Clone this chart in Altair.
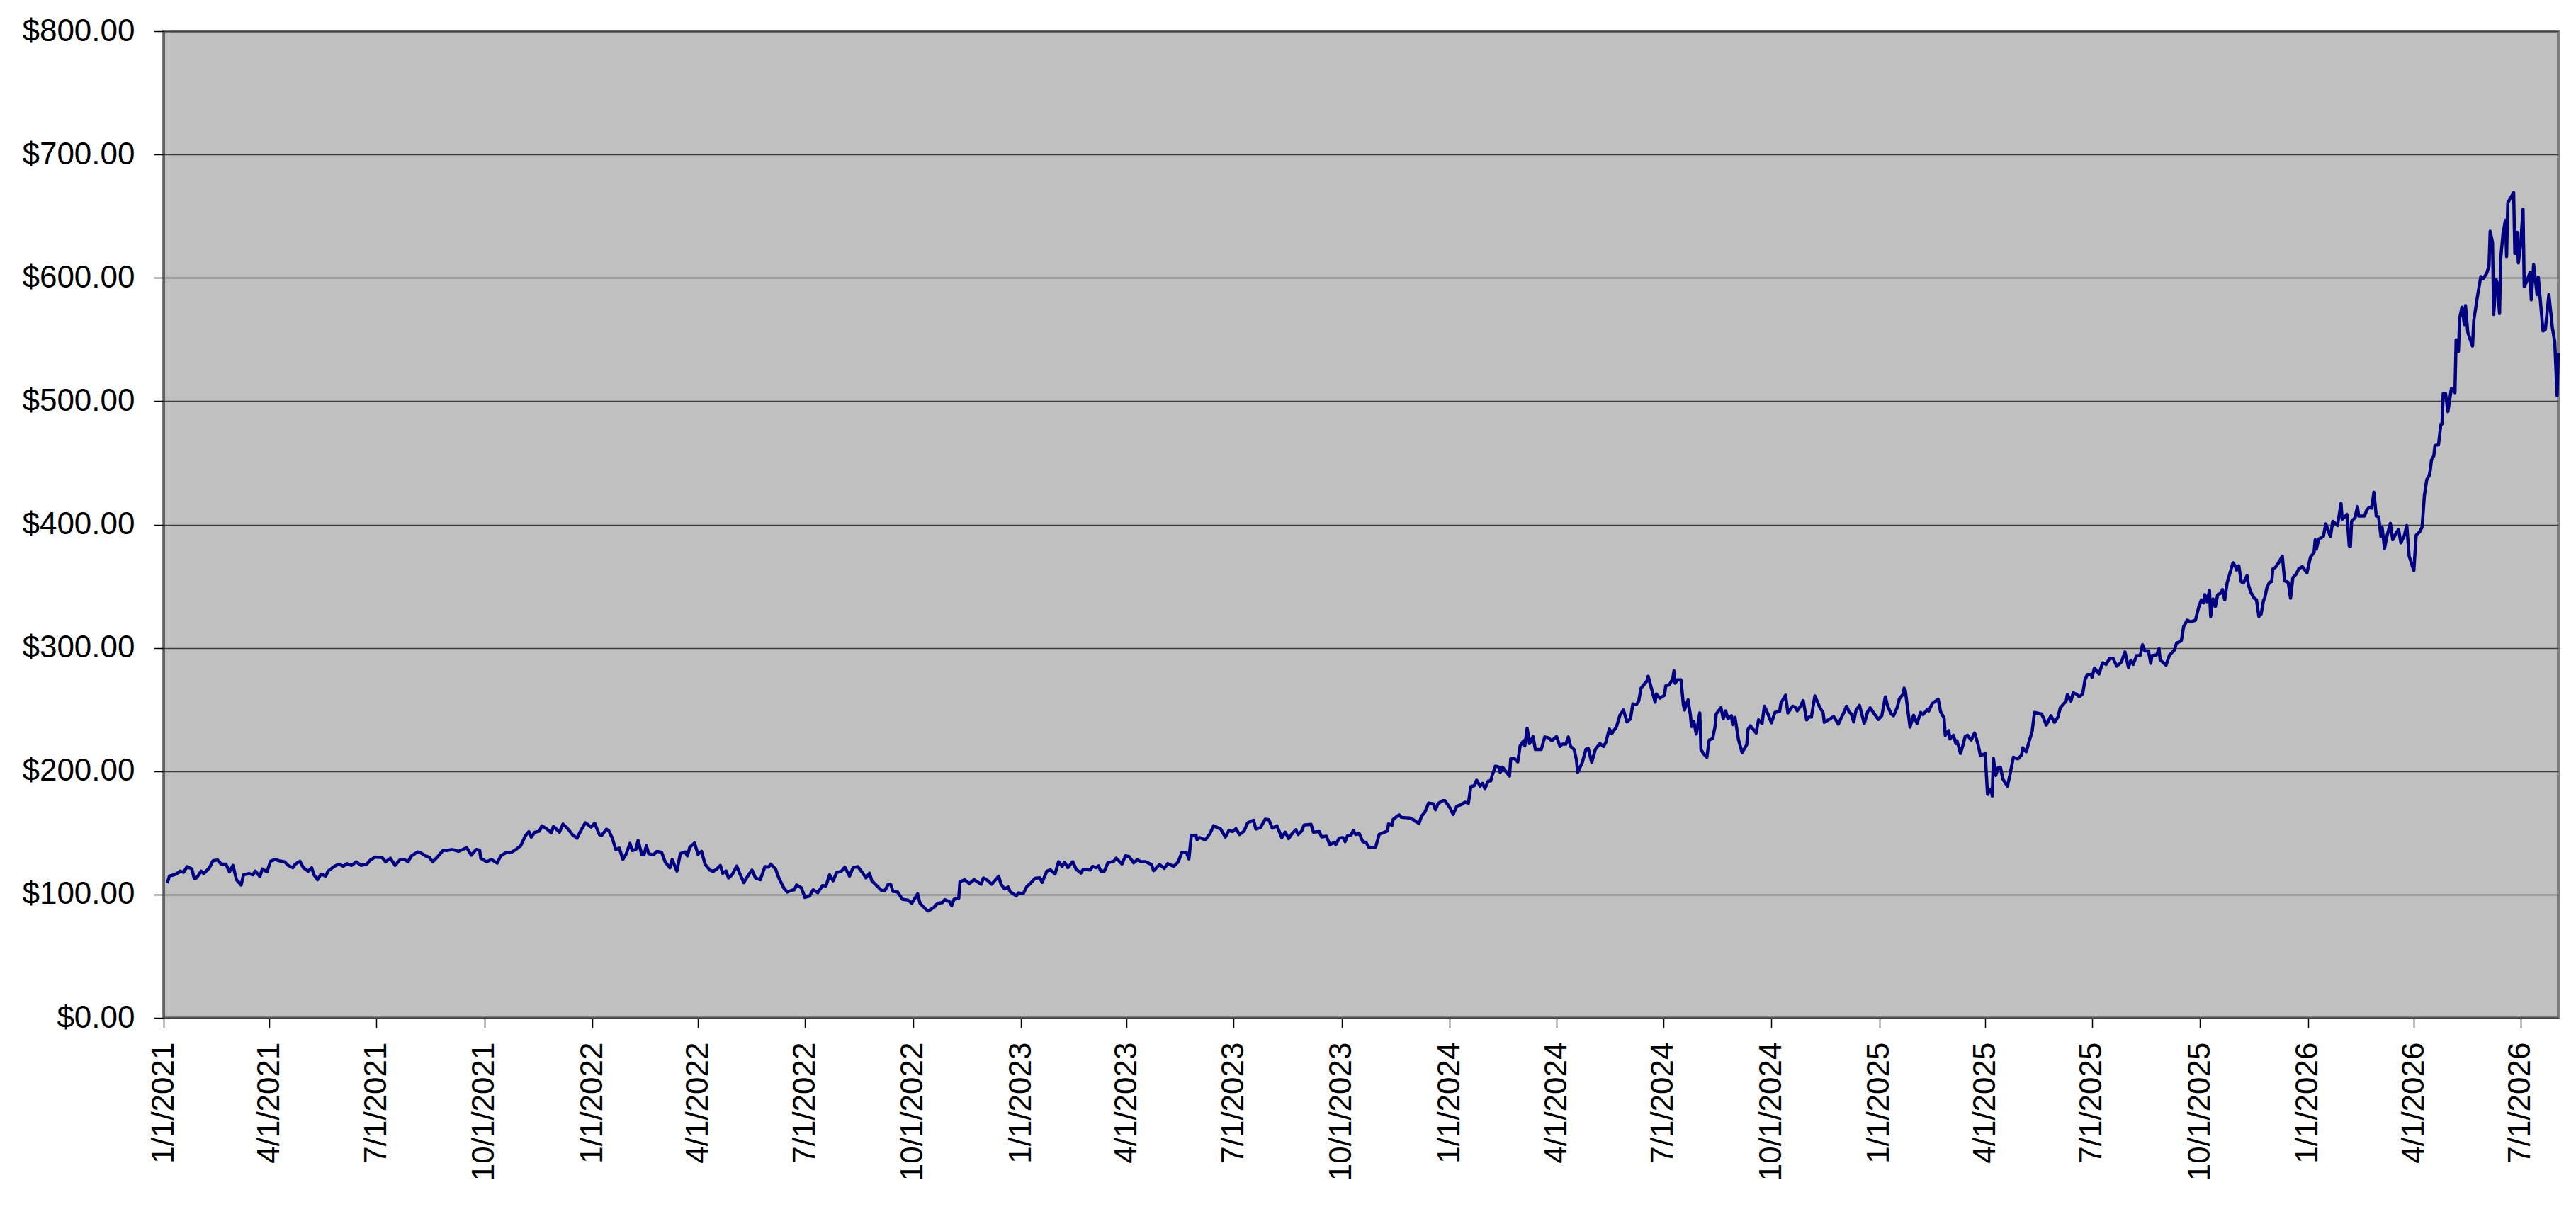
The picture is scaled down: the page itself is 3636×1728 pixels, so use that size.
import altair as alt
import pandas as pd

start_date = "2021-01-01"

# days since 1/1/2021
day_offsets = [
    3, 5, 9, 13, 14, 17, 20, 24, 26, 28, 32, 34, 39, 42, 46, 49, 53, 56, 59, 62,
    66, 68, 73, 76, 78, 82, 84, 88, 91, 95, 98, 103, 106, 110, 112, 116, 119, 123, 126, 128,
    131, 134, 138, 140, 145, 149, 153, 156, 160, 164, 168, 173, 176, 180, 186, 189, 193, 197, 201, 205,
    208, 211, 216, 219, 223, 226, 229, 233, 238, 241, 246, 251, 258, 262, 266, 269, 270, 275, 279, 284,
    287, 291, 296, 300, 304, 308, 311, 313, 316, 320, 322, 326, 330, 332, 337, 340, 345, 348, 352,
    355, 359, 364, 367, 371, 373, 377, 379, 382, 385, 388, 391, 394, 397, 399, 402, 404, 407, 409, 411,
    413, 417, 420, 424, 427, 431, 433, 437, 440, 444, 446, 448, 452, 455, 458, 461, 465, 468, 471, 474,
    476, 479, 481, 484, 488, 491, 494, 498, 501, 504, 508, 512, 515, 517, 521, 524, 528, 531, 535, 537,
    539, 543, 546, 550, 553, 557, 561, 564, 567, 570, 573, 577, 580, 584, 587, 591, 595, 598, 601, 603,
    606, 611, 614, 617, 619, 621, 625, 629, 634, 637, 642, 644, 649, 651, 656, 659, 663, 665, 669, 671,
    673, 677, 678, 682, 686, 690, 696, 698, 702, 705,
    711, 713, 716, 719, 721, 726, 728, 732, 735, 738, 742, 746, 748, 752, 755, 759, 762, 765, 767, 770,
    774, 777, 781, 783, 789, 791, 794, 796, 798, 801, 804, 809, 811, 816, 819, 822, 826, 829, 832, 836,
    841, 843, 848, 852, 855, 860, 864, 867, 871, 873, 875, 879, 880, 882, 887, 891, 894, 900, 904, 907,
    910, 913, 916, 920, 923, 928, 930, 934, 938, 941, 944, 948, 952, 955, 958, 961, 964, 966, 969, 971,
    977, 979, 984, 986, 990, 993, 997, 998, 1001, 1004, 1006, 1008, 1011, 1013, 1015, 1018, 1021, 1024, 1026, 1029,
    1032, 1035, 1038, 1042, 1043, 1046, 1047, 1052, 1054, 1061, 1065,
    1066, 1069, 1071, 1074, 1077, 1081, 1083, 1085, 1089, 1091, 1095, 1098, 1101, 1105, 1108, 1111, 1113, 1116, 1118, 1121,
    1123, 1125, 1128, 1130, 1131, 1134, 1137, 1138, 1140, 1146, 1147, 1150, 1153, 1155, 1158, 1159, 1161, 1163, 1166, 1168,
    1173, 1176, 1179, 1182, 1186, 1189, 1191, 1194, 1196, 1198, 1201, 1203, 1204, 1208, 1211, 1213, 1216, 1219, 1223, 1226,
    1228, 1231, 1233, 1237, 1240, 1243, 1246, 1249, 1251, 1254, 1256, 1258, 1263, 1264, 1267, 1270, 1271, 1274, 1278, 1279,
    1282, 1285, 1286, 1287, 1289, 1292, 1294, 1295, 1298, 1300, 1301, 1303, 1305, 1308, 1309, 1311, 1314, 1316, 1319, 1321,
    1322, 1326, 1328, 1330, 1332, 1335, 1336, 1338, 1341, 1344, 1348, 1349, 1351, 1356, 1358, 1361, 1363, 1366, 1369, 1372,
    1376, 1377, 1381, 1383, 1387, 1389, 1391, 1394, 1396, 1399, 1401, 1403, 1406, 1410, 1413, 1414, 1418,
    1422, 1426, 1429, 1431, 1433, 1435, 1437, 1439, 1441, 1444, 1448, 1451, 1453, 1456, 1460, 1463, 1466, 1468, 1471, 1473,
    1476, 1478, 1481, 1482, 1483, 1487, 1490, 1493, 1496, 1498, 1502, 1503, 1506, 1511, 1513, 1516, 1517, 1520, 1521, 1524,
    1526, 1527, 1530, 1532, 1534, 1536, 1539, 1542, 1545, 1547, 1551, 1553, 1556, 1557, 1558, 1560, 1562, 1564, 1566, 1570,
    1572, 1575, 1579, 1582, 1583, 1586, 1588, 1591, 1593, 1599, 1601, 1603, 1607, 1610, 1613, 1615, 1620, 1621, 1624, 1626,
    1629, 1631, 1634, 1636, 1638, 1641, 1642, 1644, 1648, 1651, 1654, 1657, 1660, 1663, 1667, 1670, 1673, 1675, 1677, 1680,
    1683, 1685, 1687, 1690, 1692, 1693, 1697, 1699, 1700, 1705, 1708, 1712, 1714, 1718, 1720, 1723, 1726, 1730, 1733, 1735,
    1737, 1738, 1740, 1742, 1743, 1745, 1747, 1749, 1752, 1753, 1755, 1757, 1762, 1764, 1765, 1767, 1769, 1771, 1774, 1775,
    1777,
    1780, 1782, 1784, 1786, 1788, 1789, 1791, 1793, 1795, 1796, 1798, 1801, 1804, 1806, 1809, 1811, 1813, 1816, 1818, 1821,
    1825, 1828, 1831, 1832, 1833, 1835, 1839, 1841, 1845, 1847, 1851, 1854, 1855, 1859, 1861, 1862, 1863, 1866, 1868, 1869,
    1874, 1876, 1878, 1880, 1882, 1884, 1886, 1888, 1889, 1891, 1893, 1896, 1898, 1901, 1903, 1905, 1908, 1910, 1912, 1916,
    1918, 1921, 1923, 1925, 1927, 1929, 1930, 1931, 1933, 1934, 1937, 1939, 1940, 1941, 1943, 1945, 1948, 1951, 1952, 1954,
    1955, 1957, 1959, 1960, 1962, 1966, 1967, 1970, 1973, 1975, 1978, 1980, 1981, 1983, 1984, 1986, 1987, 1989, 1990, 1992,
    1994, 1995, 1996, 1999, 2001, 2002, 2004, 2005, 2007, 2009, 2010, 2012, 2015, 2016, 2018, 2021, 2022, 2026, 2028, 2031,
    2034, 2036, 2038, 2039,
]

prices = [
    109.2, 115, 116, 118, 119, 118, 122.6, 120.7, 113, 113.4, 119, 117, 121.7, 127.4, 128, 124.6, 124.6, 118.4, 123.6, 112,
    107.7, 116, 117, 116, 119, 114.6, 120.7, 118.4, 127, 128.4, 127.4, 126.5, 123.6, 121.7, 124.6, 127, 121.7, 119, 121.7, 116,
    112, 116.5, 115, 119, 122.6, 124.6, 123, 125, 123.6, 126.5, 123.6, 124.6, 128, 130.3, 130, 126.5, 129.4, 123.6, 128, 128.4,
    126.5, 131.3, 134.5, 133.8, 131.3, 130.3, 126.5, 130.3, 136, 135.7, 136.5, 135, 138, 131.9, 136.5, 136, 129.4, 126.5, 128.4, 125.5,
    131.3, 133.8, 134.2, 136.5, 139.5, 147.6, 151, 146.6, 150.5, 151.4, 155.7, 153.4, 150, 155.3, 150.5, 157.2, 152.4, 148.6, 145.7,
    151.4, 158.2, 154.7, 157.8, 148.6, 148, 153, 151.8, 145.7, 136.5, 137.6, 128.4, 133.2, 141.5, 135.7, 136.5, 143.8, 132.6, 132.2, 139.5,
    133.2, 132.2, 135, 134.2, 126.5, 121.7, 128.4, 119, 133.2, 134.5, 131.3, 138.4, 141.8, 132.6, 135, 124.6, 119.8, 118.8, 120.7, 123.6,
    117.3, 119, 113.4, 116, 123, 116, 109.6, 116, 119.8, 113.4, 112, 122.6, 122.2, 124.6, 120.7, 113, 105.4, 102, 103.5, 103.8,
    107.7, 105.4, 97.7, 98.7, 103.8, 101.5, 107.3, 107, 116, 111.1, 117.8, 118.8, 122.2, 115, 121.7, 122.6, 117.8, 113.4, 117.3, 111.1,
    108.3, 103.5, 103, 108.3, 108.3, 102.5, 102, 96.2, 95.4, 92.9, 100.6, 92.9, 88, 86.6, 89.6, 92.9, 93.5, 95.8, 94.2, 91,
    96.2, 96.8, 110.2, 112, 108.8, 112, 108.3, 113.4, 111.1, 108.3,
    114.8, 108.4, 104.6, 106, 102.1, 98.9, 101.3, 100.8, 106.5, 109, 113.2, 113.6, 109.8, 119, 120, 116.7, 126.6, 122.8, 126.2, 121.8,
    126.6, 120.5, 117.4, 120.5, 119.9, 122.8, 121.8, 123.2, 119, 119, 125.7, 127, 129.5, 124.7, 131.4, 130.8, 125.7, 128.2, 126.6, 126.6,
    124.3, 119.3, 124.3, 121.3, 125.1, 122.8, 126.6, 134.3, 133.9, 128.9, 147.7, 148.1, 144.3, 146.2, 144.3, 149.6, 155.7, 153.1, 146.7, 151.9,
    151.1, 153.4, 148.7, 151.5, 158.2, 160.2, 153.1, 154.4, 161.1, 160.7, 153.8, 155.7, 146.2, 150.6, 145.4, 149.6, 152.5, 148.7, 151.5, 156.3,
    156.9, 150.6, 151.1, 146.7, 147.3, 140.4, 142.3, 140.4, 145.8, 146.2, 142.9, 147.7, 148.1, 151.9, 148.7, 149.6, 142.9, 142, 138.5, 138.1,
    138.5, 148.7, 150, 151.5, 157.3, 156.3, 161.1, 164.6, 162.6, 162.1, 160.2,
    159.2, 157.7, 163.4, 166.9, 174.1, 173.6, 168.8, 173.6, 176.1, 176.1, 170.7, 164.9, 171.6, 173, 174.9, 174.1, 187.5, 188.3, 192.7, 187.9,
    190.2, 186, 192.1, 192.1, 196, 204.2, 203.3, 199, 203.3, 196, 210, 210.5, 207.5, 220.5, 224.7, 220.5, 234.9, 222.4, 228.2, 217.6,
    217.6, 227.8, 227.2, 224.7, 228.2, 220.1, 222, 222, 227.8, 220.1, 217.6, 209, 199, 207.1, 217.6, 218.6, 207.1, 217.6, 222.4, 220.1,
    223.4, 234.3, 230.5, 235.8, 245.4, 249.6, 240, 242.5, 254.6, 254, 256.9, 267.4, 273.2, 277, 266.5, 255.9, 262.6, 259.2, 261.7, 269.3,
    269.9, 275.1, 281.4, 271.3, 274.1, 274.1, 254, 249.6, 257.9, 245.4, 236.2, 240, 230.1, 247.3, 217.6, 214.4, 211.3, 225.3, 226.6, 236.2,
    246.4, 251.5, 242.5, 248.9, 242.5, 245, 237.7, 243.5, 225.3, 215.1, 221.5, 233.9, 236.8, 231, 241.6, 238.7, 252.7, 246.4, 239.3, 247.7,
    248.3, 255, 261.7, 247.3, 252.7, 252.1, 248.9, 253.1, 257.3, 241.6, 243.9, 243.9, 261.1, 252.1, 247.3, 239.7, 241.9,
    244.4, 238.1, 244.4, 248.3, 252.7, 248.3, 246.4, 240, 249.2, 253.4, 238.7, 248.3, 251.5, 247.3, 242, 245, 260.3, 252.7, 246.4, 245,
    251.5, 258.8, 262.3, 267.4, 265.5, 235.8, 245.4, 238.7, 247.7, 245.8, 250.2, 248.9, 255, 258.4, 248.3, 243.1, 229.1, 232.9, 226.2, 229.1,
    222.4, 224.7, 214.4, 220.9, 228.2, 229.1, 225.3, 231, 221.5, 212.5, 214.4, 181.2, 185.6, 179.9, 210.5, 196.6, 202.9, 203.3, 193.7, 187.9,
    196.6, 211.3, 210, 213.2, 219, 215.7, 222.8, 232.4, 247.7, 246.4, 242.5, 237.4, 245, 239.7, 243.9, 251.5, 256.9, 262.3, 256.9, 263.6,
    262.3, 260.3, 262.6, 274.1, 278.4, 278.4, 276.1, 283.7, 278.9, 287.9, 286.6, 291.4, 291.4, 285.2, 288.5, 296.7, 284.1, 289.8, 286.6, 293.7,
    293.7, 302.5, 297.5, 297.5, 287.5, 293.7, 294.3, 299.4, 290.4, 286, 294.3, 298.1, 303.8, 305.7, 317.2, 322.4, 321.1, 322.4, 333.5, 338.9,
    336.4, 343.1, 337.4, 346.6, 325.5, 339.7, 333.5, 343.1, 344.6, 347.3, 338.9, 352.7, 369, 366.1, 363.2, 366.5, 353.6, 352.7, 358.8, 351.7,
    345.4,
    340.3, 339, 325.6, 327.4, 338.5, 340.3, 349.2, 353.1, 353.8, 364.1, 365.1, 369.2, 374.4, 354.4, 353.1, 340.3, 356.9, 360, 364.1, 365.9,
    360.8, 373.6, 377.4, 387.7, 380, 388.2, 390.3, 400.5, 390.3, 402.6, 399.2, 417.2, 404.4, 408.2, 382.6, 382.1, 402.6, 405.6, 414.6, 406.9,
    406.9, 412, 413.8, 413.3, 426.2, 406.9, 406.2, 390.3, 397.9, 380.5, 390.3, 401, 387.7, 393.3, 395.9, 385.1, 391.5, 399.2, 374.4, 362.6,
    391.5, 394.1, 397.9, 423.6, 436.4, 439.5, 444.1, 452.3, 455.6, 464.1, 464.6, 481.3, 481.3, 506.2, 506.2, 491.5, 510.3, 506.9, 549.7, 540.3,
    567.2, 576.2, 562.1, 577.4, 555.6, 544.6, 565.1, 583.8, 601, 599.2, 603.6, 609.5, 637.7, 628.7, 570.3, 598.5, 595.9, 571, 615.9, 636.4,
    646.7, 617.2, 660.8, 665.9, 669.2, 619.7, 636.9, 612.1, 627.4, 655.6, 592.8, 596.7, 604.4, 582.1, 610.8, 586.4, 600.5, 556.9, 558.2, 586.4,
    559.5, 547.9, 504.4, 539,
]

tick_dates = [
    "2021-01-01", "2021-04-01", "2021-07-01", "2021-10-01",
    "2022-01-01", "2022-04-01", "2022-07-01", "2022-10-01",
    "2023-01-01", "2023-04-01", "2023-07-01", "2023-10-01",
    "2024-01-01", "2024-04-01", "2024-07-01", "2024-10-01",
    "2025-01-01", "2025-04-01", "2025-07-01", "2025-10-01",
    "2026-01-01", "2026-04-01", "2026-07-01",
]
price_ticks = [0, 100, 200, 300, 400, 500, 600, 700, 800]

dates = pd.Timestamp(start_date) + pd.to_timedelta(day_offsets, unit="D")
df = pd.DataFrame({"date": dates.strftime("%Y-%m-%dT00:00:00"), "price": prices})


def to_dt(ts):
    ts = pd.Timestamp(ts)
    return alt.DateTime(year=ts.year, month=ts.month, date=ts.day)


x_domain = [to_dt(start_date), to_dt(dates[-1])]
x_values = [to_dt(d) for d in tick_dates]

FONT = "Liberation Sans"

chart = (
    alt.Chart(df)
    .mark_line(color="#000080", strokeWidth=4.5, interpolate="linear", strokeJoin="round")
    .encode(
        x=alt.X(
            "date:T",
            scale=alt.Scale(domain=x_domain, nice=False),
            axis=alt.Axis(
                values=x_values,
                format="%-m/%-d/%Y",
                labelAngle=270,
                labelFont=FONT,
                labelFontSize=44,
                labelColor="#000000",
                labelPadding=20,
                labelLimit=600,
                labelOverlap=False,
                labelFlush=False,
                tickSize=14,
                tickColor="#000000",
                tickWidth=1.5,
                domainColor="#404040",
                domainWidth=2,
                grid=False,
                title=None,
            ),
        ),
        y=alt.Y(
            "price:Q",
            scale=alt.Scale(domain=[0, 800], nice=False, zero=True),
            axis=alt.Axis(
                values=price_ticks,
                format="$,.2f",
                labelFont=FONT,
                labelFontSize=44,
                labelColor="#000000",
                labelPadding=27,
                labelLimit=600,
                labelOverlap=False,
                labelFlush=False,
                tickSize=14,
                tickColor="#000000",
                tickWidth=1.5,
                domainColor="#404040",
                domainWidth=2,
                grid=True,
                gridColor="#3c3c3c",
                gridWidth=1.5,
                title=None,
            ),
        ),
    )
    .properties(
        width=3380,
        height=1393,
        padding={"left": 223, "top": 36, "right": 10, "bottom": 270},
        autosize=alt.AutoSizeParams(type="none"),
        background="#FFFFFF",
    )
    .configure_view(fill="#C0C0C0", stroke="#808080", strokeWidth=4)
)

chart.save("out.html", embed_options={"renderer": "svg", "actions": False})
